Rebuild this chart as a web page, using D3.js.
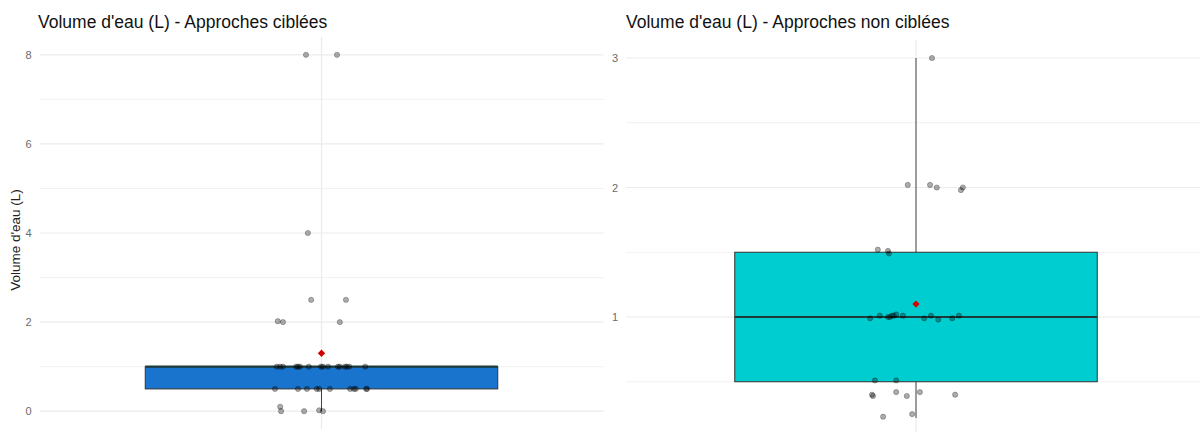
<!DOCTYPE html>
<html>
<head>
<meta charset="utf-8">
<script src="https://cdn.jsdelivr.net/npm/d3@7"></script>
<style>
    body { margin: 0; background: #fff; }
    svg { display: block; font-family: "Liberation Sans", Arial, sans-serif; }
</style>
</head>
<body>
<svg id="chart" width="1200" height="432"></svg>
<script>
/* Boxplots - volume d'eau, approches ciblées / non ciblées */

// --- Data ---
const titles = ["Volume d'eau (L) - Approches ciblées", "Volume d'eau (L) - Approches non ciblées"];
const yLabel = "Volume d'eau (L)";
const fills = ['#1874CD', '#00CDCF'];

// box stats: [lower whisker, q1, median, q3, upper whisker, mean]
const statsCiblees = [0, 0.5, 1, 1, 1, 1.3];
const statsNonCiblees = [0.22, 0.5, 1, 1.5, 3, 1.1];

// jittered points: [value, horizontal jitter in category units]
const pointsCiblees = [
    [8, -0.033], [8, 0.033], [4, -0.029], [2.5, -0.022], [2.5, 0.052],
    [2.02, -0.093], [2.0, -0.082], [2.0, 0.039],
    [1, -0.095], [1, -0.088], [1, -0.082], [1, -0.054], [1, -0.050], [1, -0.046],
    [1, -0.027], [1, -0.001], [1, 0.003], [1, 0.014], [1, 0.035], [1, 0.039],
    [1, 0.050], [1, 0.054], [1, 0.059], [1, 0.093],
    [0.5, -0.099], [0.5, -0.050], [0.5, -0.031], [0.5, -0.010], [0.5, -0.005],
    [0.5, 0.018], [0.5, 0.061], [0.5, 0.069], [0.5, 0.073], [0.5, 0.095], [0.5, 0.097],
    [0.1, -0.088], [0, -0.086], [0, -0.037], [0.02, -0.005], [0, 0.003]
];
const pointsNonCiblees = [
    [3.0, 0.033],
    [2.02, -0.017], [2.02, 0.029], [2.0, 0.043], [1.98, 0.093], [2.0, 0.097],
    [1.52, -0.079], [1.51, -0.058], [1.49, -0.056],
    [0.99, -0.095], [1.01, -0.075], [1.0, -0.058], [1.0, -0.054], [1.01, -0.050],
    [1.01, -0.046], [1.02, -0.041], [1.01, -0.027], [0.99, 0.017], [1.01, 0.031],
    [0.98, 0.046], [0.99, 0.075], [1.01, 0.089],
    [0.51, -0.085], [0.51, -0.041],
    [0.40, -0.091], [0.39, -0.089], [0.42, -0.041], [0.39, -0.019], [0.42, 0.008],
    [0.40, 0.081], [0.23, -0.068], [0.25, -0.008]
];

const majorCiblees = [0, 2, 4, 6, 8];
const minorCiblees = [1, 3, 5, 7];
const majorNonCiblees = [1, 2, 3];
const minorNonCiblees = [0.5, 1.5, 2.5];

const svg = d3.select('#chart');

function drawPanel(opt) {
    const g = svg.append('g');

    // y domain: data extent with 5% expansion (like ggplot)
    const vals = opt.points.map(d => d[0]).concat(opt.stats);
    const [lo, hi] = d3.extent(vals);
    const pad = (hi - lo) * 0.05;
    const y = d3.scaleLinear().domain([lo - pad, hi + pad]).range([opt.bottom, opt.top]);
    // discrete x with one category, 0.6 expansion each side
    const x = d3.scaleLinear().domain([0.4, 1.6]).range([opt.left, opt.right]);

    // grid
    g.selectAll('.minor').data(opt.minor).enter().append('line')
        .attr('x1', opt.left).attr('x2', opt.right)
        .attr('y1', d => y(d)).attr('y2', d => y(d))
        .attr('stroke', '#EEEEEE').attr('stroke-width', 0.8);
    g.selectAll('.major').data(opt.major).enter().append('line')
        .attr('x1', opt.left).attr('x2', opt.right)
        .attr('y1', d => y(d)).attr('y2', d => y(d))
        .attr('stroke', '#EBEBEB').attr('stroke-width', 1.2);
    g.append('line')
        .attr('x1', x(1)).attr('x2', x(1))
        .attr('y1', opt.top).attr('y2', opt.bottom)
        .attr('stroke', '#EBEBEB').attr('stroke-width', 1.2);

    // y axis labels
    const axis = d3.axisLeft(y).tickValues(opt.major).tickFormat(d3.format('d'))
        .tickSize(0).tickPadding(0);
    const ax = g.append('g')
        .attr('transform', `translate(${opt.left - 8},0)`)
        .call(axis);
    ax.select('.domain').remove();
    ax.selectAll('text')
        .attr('fill', '#6B6B6B')
        .style('font-size', '11px')
        .style('font-family', '"Liberation Sans", Arial, sans-serif');

    // boxplot
    const [wLo, q1, med, q3, wHi, mean] = opt.stats;
    const halfW = 0.375;
    g.append('line')
        .attr('x1', x(1)).attr('x2', x(1))
        .attr('y1', y(q3)).attr('y2', y(wHi))
        .attr('stroke', '#444').attr('stroke-width', 1);
    g.append('line')
        .attr('x1', x(1)).attr('x2', x(1))
        .attr('y1', y(q1)).attr('y2', y(wLo))
        .attr('stroke', '#444').attr('stroke-width', 1);
    g.append('rect')
        .attr('x', x(1 - halfW))
        .attr('width', x(1 + halfW) - x(1 - halfW))
        .attr('y', y(q3))
        .attr('height', y(q1) - y(q3))
        .attr('fill', opt.fill)
        .attr('stroke', '#333').attr('stroke-width', 1);
    g.append('line')
        .attr('x1', x(1 - halfW)).attr('x2', x(1 + halfW))
        .attr('y1', y(med)).attr('y2', y(med))
        .attr('stroke', '#1F3A3A').attr('stroke-width', 2.2);

    // jittered points
    g.selectAll('.pt').data(opt.points).enter().append('circle')
        .attr('cx', d => x(1 + d[1]))
        .attr('cy', d => y(d[0]))
        .attr('r', 2.6)
        .attr('fill', '#000').attr('fill-opacity', 0.32)
        .attr('stroke', '#000').attr('stroke-opacity', 0.3).attr('stroke-width', 0.9);

    // mean
    g.append('path')
        .attr('d', d3.symbol(d3.symbolDiamond2, 34)())
        .attr('transform', `translate(${x(1)},${y(mean)})`)
        .attr('fill', '#D40000');

    // title
    g.append('text')
        .attr('x', opt.titleX).attr('y', 28)
        .attr('fill', '#111')
        .style('font-size', '17.5px')
        .text(opt.title);

    return y;
}

drawPanel({
    title: titles[0], titleX: 38, fill: fills[0],
    stats: statsCiblees, points: pointsCiblees,
    major: majorCiblees, minor: minorCiblees,
    left: 39.5, right: 603.5, top: 37, bottom: 429
});

drawPanel({
    title: titles[1], titleX: 626, fill: fills[1],
    stats: statsNonCiblees, points: pointsNonCiblees,
    major: majorNonCiblees, minor: minorNonCiblees,
    left: 626, right: 1206, top: 40, bottom: 436
});

// y axis title (left panel only)
svg.append('text')
    .attr('transform', 'translate(19.5,240) rotate(-90)')
    .attr('text-anchor', 'middle')
    .attr('fill', '#222')
    .style('font-size', '13.5px')
    .text(yLabel);
</script>
</body>
</html>
